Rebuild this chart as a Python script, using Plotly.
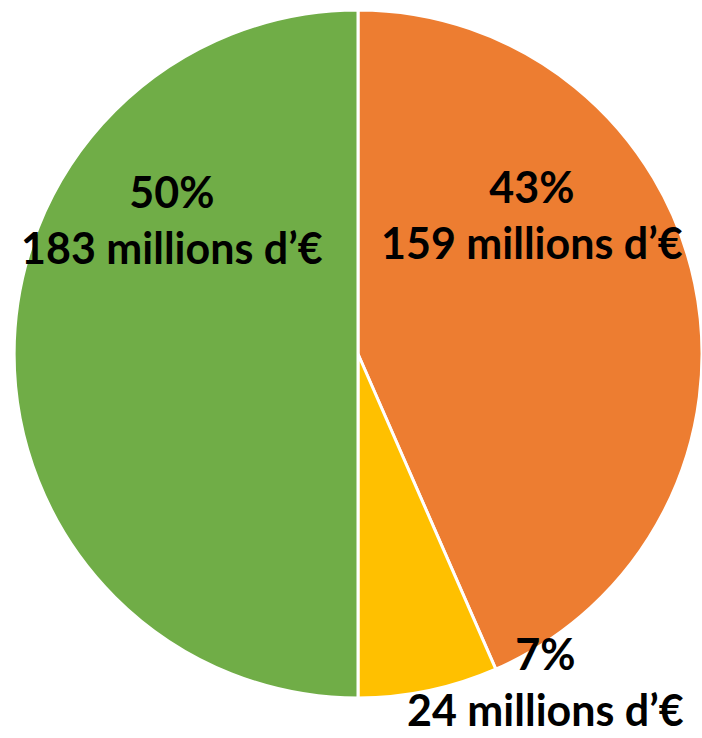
import plotly.graph_objects as go

# parts of the budget, in millions of euros
labels = ["Part A", "Part B", "Part C"]
values = [159, 24, 183]
colors = ["#ED7D31", "#FFC000", "#70AD47"]

total = sum(values)
texts = [f"{round(v / total * 100)}%<br>{v} millions d\u2019\u20ac" for v in values]

fig = go.Figure(data=go.Pie(labels=labels,
                            values=values,
                            sort=False,
                            direction="clockwise",
                            rotation=0,
                            textinfo="none",
                            hoverinfo="label+value+percent",
                            marker=dict(colors=colors,
                                        line=dict(color="white", width=3)),
                            domain=dict(x=[14 / 702, 1.0], y=[39 / 738, 729 / 738])),
                layout=go.Layout(
    width=702,
    height=738,
    margin=dict(l=0, r=0, t=0, b=0),
    showlegend=False,
    paper_bgcolor="white")
)

# label placement (paper coords, centre of text block)
label_pos = [(532 / 702, 1 - 214 / 738), (545 / 702, 1 - 681 / 738), (172 / 702, 1 - 219 / 738)]
for (px, py), t in zip(label_pos, texts):
    fig.add_annotation(x=px, y=py, xref="paper", yref="paper",
                       text="<b>" + t + "</b>", showarrow=False,
                       xanchor="center", yanchor="middle", align="center",
                       font=dict(family="Lato", size=43, color="black"))

# drop the default body margin so the figure sits at the page corner
fig.write_html("out.html", config={"displayModeBar": False},
               post_script="document.body.style.margin='0';")
